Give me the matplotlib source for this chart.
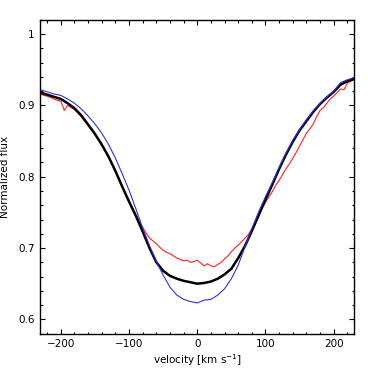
import matplotlib
matplotlib.use("Agg")
import matplotlib.pyplot as plt
import numpy as np
from matplotlib.ticker import MultipleLocator

# velocity grid (km/s) for the smooth profiles
vel = np.arange(-230, 231, 10)

black_flux = [0.918, 0.915, 0.912, 0.909, 0.903, 0.896, 0.886, 0.873, 0.860, 0.845,
              0.828, 0.808, 0.786, 0.765, 0.745, 0.723, 0.700, 0.680, 0.668, 0.661,
              0.657, 0.654, 0.652, 0.650, 0.651, 0.653, 0.657, 0.663, 0.671, 0.686,
              0.703, 0.724, 0.746, 0.768, 0.789, 0.811, 0.831, 0.849, 0.865, 0.878,
              0.891, 0.902, 0.911, 0.919, 0.929, 0.934, 0.937]

blue_flux = [0.922, 0.919, 0.916, 0.914, 0.909, 0.903, 0.895, 0.885, 0.874, 0.861,
             0.845, 0.826, 0.804, 0.781, 0.755, 0.728, 0.703, 0.681, 0.662, 0.645,
             0.634, 0.628, 0.625, 0.623, 0.627, 0.628, 0.634, 0.643, 0.657, 0.676,
             0.702, 0.727, 0.751, 0.772, 0.792, 0.813, 0.833, 0.851, 0.866, 0.880,
             0.892, 0.903, 0.912, 0.920, 0.932, 0.936, 0.939]

# observed (noisy) profile, finer grid
vel_red = np.arange(-230, 231, 5)
red_flux = [0.916, 0.914, 0.913, 0.911, 0.909, 0.907, 0.906, 0.893, 0.900, 0.897,
            0.894, 0.889, 0.884, 0.878, 0.872, 0.866, 0.859, 0.852, 0.845, 0.836,
            0.827, 0.818, 0.808, 0.797, 0.787, 0.776, 0.766, 0.756, 0.747, 0.737,
            0.729, 0.721, 0.714, 0.710, 0.706, 0.701, 0.697, 0.694, 0.692, 0.689,
            0.686, 0.684, 0.682, 0.683, 0.680, 0.681, 0.683, 0.679, 0.675, 0.678,
            0.675, 0.674, 0.677, 0.680, 0.685, 0.689, 0.695, 0.700, 0.704, 0.709,
            0.714, 0.719, 0.727, 0.737, 0.746, 0.756, 0.764, 0.772, 0.779, 0.788,
            0.795, 0.803, 0.811, 0.818, 0.826, 0.834, 0.843, 0.852, 0.861, 0.867,
            0.874, 0.884, 0.893, 0.897, 0.903, 0.909, 0.913, 0.918, 0.923, 0.922,
            0.931, 0.934, 0.936]

fig = plt.figure(figsize=(3.74, 3.74), dpi=100)
ax = fig.add_axes([0.108, 0.108, 0.839, 0.839])

ax.plot(vel_red, red_flux, color="#ff2020", lw=0.8)
ax.plot(vel, black_flux, color="black", lw=1.8)
ax.plot(vel, blue_flux, color="#3030e0", lw=0.8)

ax.set_xlim(-230, 230)
ax.set_ylim(0.58, 1.02)
ax.xaxis.set_minor_locator(MultipleLocator(20))
ax.yaxis.set_minor_locator(MultipleLocator(0.02))
ax.set_yticks([0.6, 0.7, 0.8, 0.9, 1.0])
ax.set_yticklabels(["0.6", "0.7", "0.8", "0.9", "1"])
ax.set_xticks([-200, -100, 0, 100, 200])
ax.set_xticklabels(["\u2212200", "\u2212100", "0", "100", "200"])
ax.tick_params(which="both", direction="in", top=True, right=True, labelsize=7.5, width=0.8)
ax.tick_params(which="major", length=3.3, pad=4)
ax.tick_params(which="minor", length=1.8)
for s in ax.spines.values():
    s.set_linewidth(1.0)

ax.set_xlabel("velocity [km s$^{-1}$]", fontsize=7.5, labelpad=2)
ax.set_ylabel("Normalized flux", fontsize=7.5, labelpad=6)

fig.savefig("out.png", dpi=100)
